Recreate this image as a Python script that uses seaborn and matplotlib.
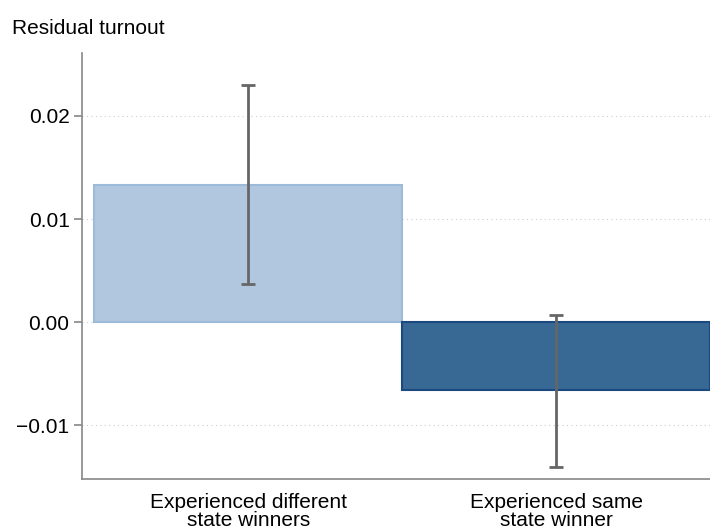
import matplotlib
matplotlib.use("Agg")
import matplotlib.pyplot as plt
import seaborn as sns
import pandas as pd

groups = ["Experienced different\nstate winners", "Experienced same\nstate winner"]
estimates = [0.0133, -0.0066]
ci_low = [0.0037, -0.0140]
ci_high = [0.0230, 0.0007]
fill_colors = ["#b0c7df", "#386894"]
edge_colors = ["#9dbad9", "#1c4a80"]

sns.set_theme(style="white")
plt.rcParams["font.family"] = ["Liberation Sans", "DejaVu Sans"]

df = pd.DataFrame({"group": groups, "estimate": estimates})

fig = plt.figure(figsize=(7.1, 5.27), dpi=100)
ax = fig.add_axes([0.1155, 0.0911, 0.8845, 0.8083])

sns.barplot(data=df, x="group", y="estimate", hue="group", palette=fill_colors,
            saturation=1, width=1.0, errorbar=None, legend=False, ax=ax, zorder=2)
for patch, ec in zip(ax.patches, edge_colors):
    patch.set_edgecolor(ec)
    patch.set_linewidth(1.5)

xs = list(range(len(groups)))
yerr = [[e - lo for e, lo in zip(estimates, ci_low)],
        [hi - e for e, hi in zip(estimates, ci_high)]]
ax.errorbar(xs, estimates, yerr=yerr, fmt="none", ecolor="#666666",
            elinewidth=2, capsize=5, capthick=2, zorder=3)

ax.set_xlim(-0.54, 1.5)
ax.set_ylim(-0.0152, 0.0261)
ax.set_yticks([-0.01, 0.0, 0.01, 0.02])
ax.set_yticklabels(["\u22120.01", "0.00", "0.01", "0.02"])
ax.yaxis.grid(True, linestyle=(0, (1, 3)), color="#cccccc", linewidth=0.8, zorder=0)
ax.set_axisbelow(True)

for side in ["top", "right"]:
    ax.spines[side].set_visible(False)
for side in ["left", "bottom"]:
    ax.spines[side].set_color("#888888")
    ax.spines[side].set_linewidth(1.2)

ax.tick_params(axis="y", which="major", left=True, length=6, width=1.2,
               color="#888888", labelsize=15, labelcolor="black", pad=3)
ax.tick_params(axis="x", bottom=False, labelcolor="black", labelsize=15, pad=4)
for lbl in ax.get_xticklabels():
    lbl.set_linespacing(0.95)
ax.set_xlabel("")
ax.set_ylabel("")
fig.text(12 / 710, 1 - 28 / 527, "Residual turnout", fontsize=15,
         ha="left", va="center", color="black")

fig.savefig("out.png", dpi=100)
